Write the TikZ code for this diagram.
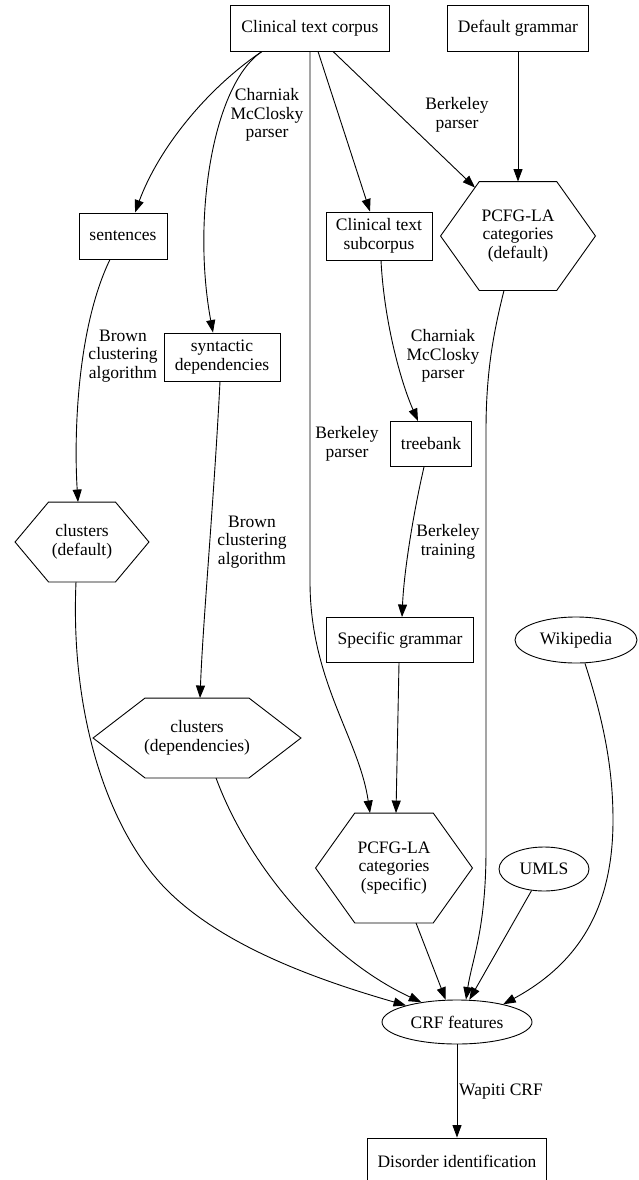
\documentclass[tikz,border=0pt]{standalone}
\usepackage{fontspec}
\setmainfont{Liberation Serif}
\usetikzlibrary{arrows.meta,calc,shapes.geometric}

\begin{document}
\begin{tikzpicture}[x=1pt,y=-1pt,
    font=\fontsize{17.5}{18.5}\selectfont,
    line width=0.9pt,
    box/.style={draw,rectangle,inner sep=0pt,align=center},
    hexbox/.style={rectangle,inner sep=0pt,align=center},
    oval/.style={draw,ellipse,inner sep=0pt},
    lbl/.style={inner sep=0pt,align=center},
    arr/.style={-{Triangle[length=12.5pt,width=9pt]}}]

    \useasboundingbox (0,0) rectangle (638,1180);

    % Draw the sources
    \node[box,minimum width=159pt,minimum height=46pt] (corpus) at (310,28) {Clinical text corpus};
    \node[box,minimum width=141pt,minimum height=46pt] (defgram) at (518,28) {Default grammar};

    % Draw the intermediate nodes
    \node[box,minimum width=88pt,minimum height=46pt] (sentences) at (123,236) {sentences};
    \node[box,minimum width=106pt,minimum height=48pt] (subcorpus) at (379,236) {Clinical text\\subcorpus};
    \node[hexbox,minimum width=154pt,minimum height=108pt] (pcfgdef) at (518,236) {PCFG-LA\\categories\\(default)};
    \node[box,minimum width=116pt,minimum height=48pt] (syndep) at (222,357) {syntactic\\dependencies};
    \node[box,minimum width=81pt,minimum height=45pt] (treebank) at (431,444) {treebank};
    \node[hexbox,minimum width=133pt,minimum height=79pt] (clusdef) at (82,542) {clusters\\(default)};
    \node[box,minimum width=147pt,minimum height=45pt] (specgram) at (400,640) {Specific grammar};
    \node[oval,minimum width=122pt,minimum height=46pt] (wiki) at (576,640) {Wikipedia};
    \node[hexbox,minimum width=207pt,minimum height=79pt] (clusdep) at (197,738) {clusters\\(dependencies)};
    \node[hexbox,minimum width=156pt,minimum height=109pt] (pcfgspec) at (394,868) {PCFG-LA\\categories\\(specific)};
    \node[oval,minimum width=90pt,minimum height=44pt] (umls) at (544,869) {UMLS};
    \node[oval,minimum width=150pt,minimum height=44pt] (crf) at (457,1022) {CRF features};
    \node[box,minimum width=179pt,minimum height=46pt] (disorder) at (457,1161) {Disorder identification};

    % Draw the hexagon outlines
    \foreach \h in {pcfgdef,clusdef,clusdep,pcfgspec} {
        \draw (\h.west) -- ($(\h.north west)!0.25!(\h.north east)$) -- ($(\h.north west)!0.75!(\h.north east)$)
            -- (\h.east) -- ($(\h.south west)!0.75!(\h.south east)$) -- ($(\h.south west)!0.25!(\h.south east)$) -- cycle;
    }

    % Draw the edge labels
    \node[lbl] (lcharn1) at (267,115) {Charniak\\McClosky\\parser};
    \node[lbl] (lberk1) at (457,115) {Berkeley\\parser};
    \node[lbl] (lbrown1) at (123,356) {Brown\\clustering\\algorithm};
    \node[lbl] (lcharn2) at (443,356) {Charniak\\McClosky\\parser};
    \node[lbl] (lberk2) at (347,444) {Berkeley\\parser};
    \node[lbl] (lbrown2) at (252,542) {Brown\\clustering\\algorithm};
    \node[lbl] (ltrain) at (448,542) {Berkeley\\training};
    \node[lbl] (lwapiti) at (501,1092) {Wapiti CRF};

    % Draw the edges from the corpus
    \draw[arr] ($(corpus.south)+(-48,0)$) .. controls (205,90) and (158,150) .. ($(sentences.north)+(12,0)$);
    \draw[arr] ($(corpus.south)+(-48,0)$) .. controls (212,85) and (192,220) .. ($(syndep.north)+(-9,0)$);
    \draw[arr] (corpus.south) -- ($(corpus.south)+(0,530)$) .. controls ($(corpus.south)+(0,630)$) and ($(pcfgspec.north)+(-35,-75)$) .. ($(pcfgspec.north)+(-24,0)$);
    \draw[arr] ($(corpus.south)+(8,0)$) -- ($(subcorpus.north)+(-9,0)$);
    \draw[arr] ($(corpus.south)+(23,0)$) -- ($(pcfgdef.north)+(-43,6)$);
    \draw[arr] (defgram.south) -- (pcfgdef.north);

    % Draw the clustering and parsing edges
    \draw[arr] ($(sentences.south)+(-13,0)$) .. controls (76,330) and (74,440) .. ($(clusdef.north)+(-4,0)$);
    \draw[arr] ($(syndep.south)+(-2,0)$) .. controls (214,500) and (203,620) .. ($(clusdep.north)+(3,0)$);
    \draw[arr] ($(subcorpus.south)+(2,0)$) .. controls (384,320) and (400,380) .. ($(treebank.north)+(-13,0)$);
    \draw[arr] ($(treebank.south)+(-7,0)$) .. controls (414,510) and (404,570) .. ($(specgram.north)+(2,0)$);
    \draw[arr] ($(specgram.south)+(-1,0)$) -- ($(pcfgspec.north)+(2,0)$);

    % Draw the edges into the CRF features
    \draw[arr] ($(pcfgdef.south)+(-14,0)$) .. controls ($(pcfgdef.south)+(-24,40)$) and ($(pcfgdef.south)+(-32,80)$) .. ($(pcfgdef.south)+(-32,140)$)
        -- ($(crf.north)+(29,-150)$) .. controls ($(crf.north)+(29,-70)$) and ($(crf.north)+(15,-40)$) .. ($(crf.north)+(9,0)$);
    \draw[arr] ($(clusdef.south)+(-6,0)$) .. controls (70,720) and (110,830) .. (164,887) .. controls (215,940) and (300,975) .. (crf.162);
    \draw[arr] ($(clusdep.south)+(19,0)$) .. controls (250,870) and (330,960) .. (crf.151);
    \draw[arr] ($(pcfgspec.south)+(22,0)$) -- (crf.117);
    \draw[arr] (umls.240) -- (crf.61);
    \draw[arr] (wiki.291) .. controls (600,710) and (613,760) .. (613,820) .. controls (613,900) and (585,960) .. (crf.21);

    % Draw the last step
    \draw[arr] (crf.south) -- (disorder.north);
\end{tikzpicture}
\end{document}
